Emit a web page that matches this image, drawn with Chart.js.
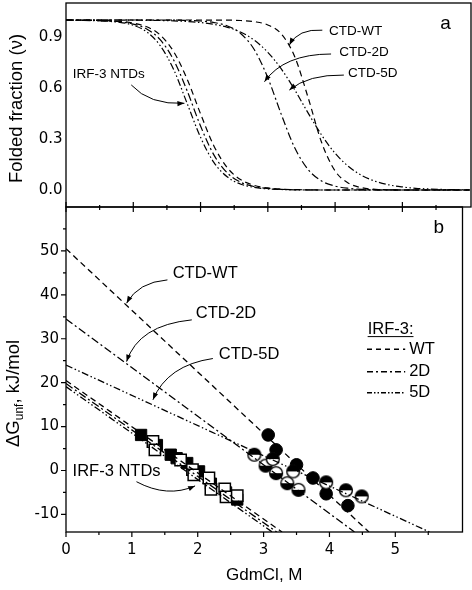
<!DOCTYPE html>
<html>
<head>
<meta charset="utf-8">
<script src="https://cdn.jsdelivr.net/npm/chart.js@4.4.1/dist/chart.umd.min.js"></script>
<style>
  html, body { margin: 0; padding: 0; background: #fff; }
  #wrap { position: relative; width: 472px; height: 590px; }
  #wrap canvas { position: absolute; left: 0; top: 0; }
</style>
</head>
<body>
<div id="wrap">
  <canvas id="panel-b" width="472" height="590"></canvas>
  <canvas id="panel-a" width="472" height="590"></canvas>
</div>
<script>
// Panel a: folded fraction vs GdmCl
const gdmGrid = [0, 0.8, 1.0, 1.2, 1.4, 1.6, 1.8, 2.0, 2.2, 2.4, 2.6, 2.8, 3.0, 3.2, 3.4, 3.6, 3.8, 4.0, 4.2, 4.4, 4.6, 4.8, 5.0, 5.2, 5.4, 5.6, 6.0];
const ntdWT  = [1.00, 0.992, 0.982, 0.960, 0.912, 0.814, 0.653, 0.448, 0.258, 0.130, 0.060, 0.027, 0.012, 0.005, 0.002, 0.001, 0, 0, 0, 0, 0, 0, 0, 0, 0, 0, 0];
const ntd2D  = [1.00, 0.990, 0.976, 0.947, 0.884, 0.765, 0.584, 0.376, 0.205, 0.100, 0.045, 0.020, 0.009, 0.004, 0.002, 0.001, 0, 0, 0, 0, 0, 0, 0, 0, 0, 0, 0];
const ntd5D  = [1.00, 0.986, 0.969, 0.930, 0.849, 0.709, 0.510, 0.310, 0.161, 0.076, 0.034, 0.015, 0.006, 0.003, 0.001, 0, 0, 0, 0, 0, 0, 0, 0, 0, 0, 0, 0];
const ctdWT  = [1.00, 1.00, 1.00, 1.00, 1.00, 1.00, 1.00, 1.00, 0.999, 0.999, 0.997, 0.990, 0.971, 0.918, 0.784, 0.542, 0.279, 0.112, 0.040, 0.013, 0.004, 0.001, 0, 0, 0, 0, 0];
const ctd2D  = [1.00, 1.00, 1.00, 1.00, 0.999, 0.999, 0.997, 0.994, 0.985, 0.965, 0.919, 0.825, 0.660, 0.445, 0.248, 0.120, 0.053, 0.023, 0.010, 0.004, 0.002, 0.001, 0, 0, 0, 0, 0];
const ctd5D  = [1.00, 0.999, 0.999, 0.998, 0.997, 0.995, 0.991, 0.985, 0.974, 0.957, 0.928, 0.881, 0.810, 0.712, 0.589, 0.452, 0.323, 0.216, 0.138, 0.085, 0.051, 0.030, 0.018, 0.010, 0.006, 0.003, 0.001];

// Panel b: linear fits, [GdmCl, dG] end points
const fitCtdWT = [[0, 50.5], [4.60, -14]];
const fitCtd2D = [[0, 34.5], [4.38, -14]];
const fitCtd5D = [[0, 24.0], [5.52, -14]];
const fitNtdWT = [[0, 20.5], [3.28, -14]];
const fitNtd2D = [[0, 19.8], [3.20, -14]];
const fitNtd5D = [[0, 19.1], [3.13, -14]];

// Panel b: measured points
const ctdWTPts = [[3.07, 8.1], [3.19, 4.7], [3.50, 1.3], [3.75, -1.7], [3.95, -5.3], [4.28, -8.0]];
const ctd2DPts = [[3.03, 1.1], [3.19, -0.6], [3.36, -2.9], [3.53, -4.4]];
const ctd5DPts = [[2.86, 3.6], [3.14, 2.6], [3.45, -0.2], [3.95, -2.7], [4.25, -4.5], [4.49, -5.9]];
const ntdOpenPts   = [[1.32, 6.6], [1.35, 4.7], [1.74, 2.4], [1.92, 0.2], [1.94, -1.0], [2.17, -1.7], [2.20, -4.3], [2.41, -4.2], [2.43, -6.0], [2.60, -5.7]];
const ntdFilledPts = [[1.14, 8.1], [1.38, 5.8], [1.59, 3.6], [1.68, 2.8], [1.84, 1.7], [2.02, -0.2], [2.20, -3.0], [2.43, -5.0], [2.60, -6.6]];

// Ticks
const xMajor = [0, 1, 2, 3, 4, 5];
const xMinor = [0.5, 1.5, 2.5, 3.5, 4.5, 5.5];
const foldMajor = [0.0, 0.3, 0.6, 0.9];
const dgMajor = [-10, 0, 10, 20, 30, 40, 50];
const dgMinor = [-5, 5, 15, 25, 35, 45, 55];

const DASH_WT = [6, 4];
const DASH_2D = [8, 3, 2, 3];
const DASH_5D = [7, 2.5, 1.5, 2.5, 1.5, 2.5];

const TICK_FONT = { family: 'DejaVu Sans', size: 15 };
const TEXT_FONT = 'Liberation Sans, Arial, sans-serif';

Chart.defaults.color = '#000';
Chart.defaults.animation = false;

// helpers

function toXY(xs, ys) {
  return xs.map((x, i) => ({ x, y: ys[i] }));
}

function pairs(list) {
  return list.map(p => ({ x: p[0], y: p[1] }));
}

function halfCircle(topBlack) {
  const c = document.createElement('canvas');
  c.width = 16; c.height = 16;
  const g = c.getContext('2d');
  const r = 6.4;
  g.fillStyle = '#fff';
  g.beginPath(); g.arc(8, 8, r, 0, Math.PI * 2); g.fill();
  g.fillStyle = '#000';
  g.beginPath();
  if (topBlack) g.arc(8, 8, r, Math.PI, Math.PI * 2);
  else g.arc(8, 8, r, 0, Math.PI);
  g.closePath(); g.fill();
  g.strokeStyle = '#000'; g.lineWidth = 1.4;
  g.beginPath(); g.arc(8, 8, r, 0, Math.PI * 2); g.stroke();
  return c;
}

function curve(data, dash) {
  return {
    data, borderColor: '#000', borderWidth: 1.2, borderDash: dash,
    pointRadius: 0, cubicInterpolationMode: 'monotone', fill: false,
  };
}

function fitLine(list, dash) {
  return {
    data: pairs(list), showLine: true, borderColor: '#000', borderWidth: 1.3,
    borderDash: dash, pointRadius: 0,
  };
}

function fixedTicks(values) {
  return scale => { scale.ticks = values.map(v => ({ value: v })); };
}

// keep the plot box where the reference has it
function pinSize(prop, size) {
  return s => {
    s[prop] = size;
    s.paddingTop = 0; s.paddingBottom = 0;
    s.paddingLeft = 0; s.paddingRight = 0;
  };
}

// frame, ticks, annotations drawn per chart
function drawTicks(ctx, scale, values, horizontal, before, after) {
  const a = scale.chart.chartArea;
  ctx.beginPath();
  values.forEach(v => {
    const p = scale.getPixelForValue(v);
    if (horizontal) { ctx.moveTo(p, a.bottom - before); ctx.lineTo(p, a.bottom + after); }
    else { ctx.moveTo(a.left + before, p); ctx.lineTo(a.left - after, p); }
  });
  ctx.stroke();
}

function arrow(ctx, sx, sy, cx, cy, ex, ey) {
  ctx.beginPath();
  ctx.moveTo(sx, sy);
  ctx.quadraticCurveTo(cx, cy, ex, ey);
  ctx.stroke();
  const ang = Math.atan2(ey - cy, ex - cx);
  const L = 7, W = 2.6;
  ctx.beginPath();
  ctx.moveTo(ex, ey);
  ctx.lineTo(ex - L * Math.cos(ang) + W * Math.sin(ang), ey - L * Math.sin(ang) - W * Math.cos(ang));
  ctx.lineTo(ex - L * Math.cos(ang) - W * Math.sin(ang), ey - L * Math.sin(ang) + W * Math.cos(ang));
  ctx.closePath();
  ctx.fill();
}

const decorPlugin = {
  id: 'decor',
  afterDraw(chart, args, opts) {
    const { ctx, chartArea: a } = chart;
    const xs = chart.scales.x, ys = chart.scales.y;
    const px = v => xs.getPixelForValue(v);
    const py = v => ys.getPixelForValue(v);
    ctx.save();
    ctx.strokeStyle = '#000';
    ctx.fillStyle = '#000';
    ctx.lineWidth = 1.3;
    ctx.strokeRect(a.left, a.top, a.right - a.left, a.bottom - a.top);

    ctx.lineWidth = 1.2;
    if (opts.panel === 'a') {
      drawTicks(ctx, xs, xMajor, true, 5, 5);
      drawTicks(ctx, xs, xMinor, true, 2, 3);
    } else {
      drawTicks(ctx, xs, xMajor, true, 0, 5);
      drawTicks(ctx, xs, xMinor, true, 0, 3);
      drawTicks(ctx, ys, dgMajor, false, 0, 5);
      drawTicks(ctx, ys, dgMinor, false, 0, 3);
    }

    ctx.lineWidth = 1;
    ctx.textBaseline = 'middle';
    ctx.textAlign = 'left';
    (opts.labels || []).forEach(l => {
      ctx.font = `${l.size}px ${TEXT_FONT}`;
      ctx.fillText(l.text, px(l.x), py(l.y));
    });
    (opts.arrows || []).forEach(r => {
      arrow(ctx, px(r[0]), py(r[1]), px(r[2]), py(r[3]), px(r[4]), py(r[5]));
    });

    // panel letter
    ctx.font = `19px ${TEXT_FONT}`;
    ctx.textAlign = 'center';
    ctx.fillText(opts.letter.text, px(opts.letter.x), py(opts.letter.y));

    // y axis title
    ctx.textAlign = 'left';
    ctx.textBaseline = 'alphabetic';
    if (opts.panel === 'a') {
      ctx.translate(21.5, 183);
      ctx.rotate(-Math.PI / 2);
      ctx.font = `18.5px ${TEXT_FONT}`;
      ctx.fillText('Folded fraction (\u03BD)', 0, 0);
    } else {
      ctx.translate(18.5, 447);
      ctx.rotate(-Math.PI / 2);
      ctx.font = `18.5px ${TEXT_FONT}`;
      let w = 0;
      ctx.fillText('\u0394G', w, 0);
      w += ctx.measureText('\u0394G').width;
      ctx.font = `12px ${TEXT_FONT}`;
      ctx.fillText('unf', w, 4.5);
      w += ctx.measureText('unf').width;
      ctx.font = `18.5px ${TEXT_FONT}`;
      ctx.fillText(', kJ/mol', w, 0);
    }
    ctx.restore();

    if (opts.panel === 'b') drawLegend(chart);
  },
};

function drawLegend(chart) {
  const { ctx } = chart;
  const px = v => chart.scales.x.getPixelForValue(v);
  const py = v => chart.scales.y.getPixelForValue(v);
  ctx.save();
  ctx.fillStyle = '#000'; ctx.strokeStyle = '#000';
  ctx.font = `16.5px ${TEXT_FONT}`;
  ctx.textBaseline = 'middle';
  const x0 = px(4.58);
  ctx.fillText('IRF-3:', x0, py(32.2));
  const w = ctx.measureText('IRF-3:').width;
  ctx.lineWidth = 1;
  ctx.beginPath(); ctx.moveTo(x0, py(32.2) + 7.5); ctx.lineTo(x0 + w, py(32.2) + 7.5); ctx.stroke();
  const rows = [['WT', 27.6, [5, 4]], ['2D', 22.5, [6, 3, 2, 3]], ['5D', 17.7, [5, 2, 1.5, 2, 1.5, 2]]];
  rows.forEach(([name, g, dash]) => {
    ctx.setLineDash(dash);
    ctx.lineWidth = 1.4;
    ctx.beginPath(); ctx.moveTo(px(4.57), py(g)); ctx.lineTo(px(5.15), py(g)); ctx.stroke();
    ctx.setLineDash([]);
    ctx.fillText(name, px(5.21), py(g));
  });
  ctx.restore();
}

// Panel a

new Chart(document.getElementById('panel-a'), {
  type: 'line',
  data: {
    datasets: [
      curve(toXY(gdmGrid, ntdWT), DASH_WT),
      curve(toXY(gdmGrid, ntd2D), DASH_2D),
      curve(toXY(gdmGrid, ntd5D), DASH_5D),
      curve(toXY(gdmGrid, ctdWT), DASH_WT),
      curve(toXY(gdmGrid, ctd2D), DASH_2D),
      curve(toXY(gdmGrid, ctd5D), DASH_5D),
    ],
  },
  options: {
    responsive: false,
    layout: { padding: { top: 3, left: 0, right: 1, bottom: 383 } },
    plugins: {
      legend: { display: false },
      tooltip: { enabled: false },
      decor: {
        panel: 'a',
        letter: { text: 'a', x: 5.64, y: 0.98 },
        labels: [
          { text: 'CTD-WT', x: 3.91, y: 0.935, size: 13.5 },
          { text: 'CTD-2D', x: 4.06, y: 0.808, size: 13.5 },
          { text: 'CTD-5D', x: 4.19, y: 0.688, size: 13.5 },
          { text: 'IRF-3 NTDs', x: 0.10, y: 0.682, size: 13.5 },
        ],
        arrows: [
          [3.81, 0.94, 3.45, 0.95, 3.32, 0.853],
          [3.94, 0.80, 3.24, 0.80, 2.95, 0.637],
          [4.13, 0.676, 3.60, 0.68, 3.32, 0.588],
          [0.97, 0.618, 1.24, 0.50, 1.76, 0.51],
        ],
      },
    },
    scales: {
      x: {
        type: 'linear', min: 0, max: 6.02,
        afterBuildTicks: fixedTicks(xMajor),
        afterFit: pinSize('height', 0),
        grid: { display: false, drawTicks: false },
        border: { display: false },
        ticks: { display: false },
      },
      y: {
        min: -0.1, max: 1.1,
        afterBuildTicks: fixedTicks(foldMajor),
        afterFit: pinSize('width', 66),
        grid: { display: false, drawTicks: false },
        border: { display: false },
        ticks: { font: TICK_FONT, padding: 3.5, callback: v => v.toFixed(1) },
      },
    },
  },
  plugins: [decorPlugin],
});

// Panel b

const topBlack = halfCircle(true);
const bottomBlack = halfCircle(false);

new Chart(document.getElementById('panel-b'), {
  type: 'scatter',
  data: {
    datasets: [
      fitLine(fitCtdWT, DASH_WT),
      fitLine(fitCtd2D, DASH_2D),
      fitLine(fitCtd5D, DASH_5D),
      fitLine(fitNtdWT, DASH_WT),
      fitLine(fitNtd2D, DASH_2D),
      fitLine(fitNtd5D, DASH_5D),
      { data: pairs(ntdOpenPts), pointStyle: 'rect', pointRadius: 8, backgroundColor: '#fff', borderColor: '#000', borderWidth: 1.5 },
      { data: pairs(ntdFilledPts), pointStyle: 'rect', pointRadius: 8, backgroundColor: '#000', borderColor: '#000', borderWidth: 1 },
      { data: pairs(ctd5DPts), pointStyle: topBlack, pointRadius: 6 },
      { data: pairs(ctd2DPts), pointStyle: bottomBlack, pointRadius: 6 },
      { data: pairs(ctdWTPts), pointStyle: 'circle', pointRadius: 6.3, backgroundColor: '#000', borderColor: '#000', borderWidth: 1 },
    ],
  },
  options: {
    responsive: false,
    layout: { padding: { top: 207, left: 0, right: 1, bottom: 0 } },
    plugins: {
      legend: { display: false },
      tooltip: { enabled: false },
      decor: {
        panel: 'b',
        letter: { text: 'b', x: 5.66, y: 55.2 },
        labels: [
          { text: 'CTD-WT', x: 1.62, y: 44.9, size: 16.5 },
          { text: 'CTD-2D', x: 1.97, y: 35.8, size: 16.5 },
          { text: 'CTD-5D', x: 2.32, y: 26.5, size: 16.5 },
          { text: 'IRF-3 NTDs', x: 0.10, y: -0.3, size: 16.5 },
        ],
        arrows: [
          [1.54, 43.4, 1.10, 42.9, 0.92, 38.1],
          [1.91, 34.3, 1.10, 33.1, 0.92, 24.8],
          [2.23, 25.5, 1.54, 24.0, 1.32, 16.1],
          [1.07, -2.55, 1.54, -6.3, 1.96, -3.5],
        ],
      },
    },
    scales: {
      x: {
        type: 'linear', min: 0, max: 6.02,
        afterBuildTicks: fixedTicks(xMajor),
        afterFit: pinSize('height', 58),
        grid: { display: false, drawTicks: false },
        border: { display: false },
        ticks: { font: TICK_FONT, padding: 9 },
        title: { display: true, text: 'GdmCl, M', font: { family: 'Liberation Sans', size: 17 }, padding: { top: 6 } },
      },
      y: {
        min: -14, max: 60,
        afterBuildTicks: fixedTicks(dgMajor),
        afterFit: pinSize('width', 66),
        grid: { display: false, drawTicks: false },
        border: { display: false },
        ticks: { font: TICK_FONT, padding: 7 },
      },
    },
  },
  plugins: [decorPlugin],
});
</script>
</body>
</html>
